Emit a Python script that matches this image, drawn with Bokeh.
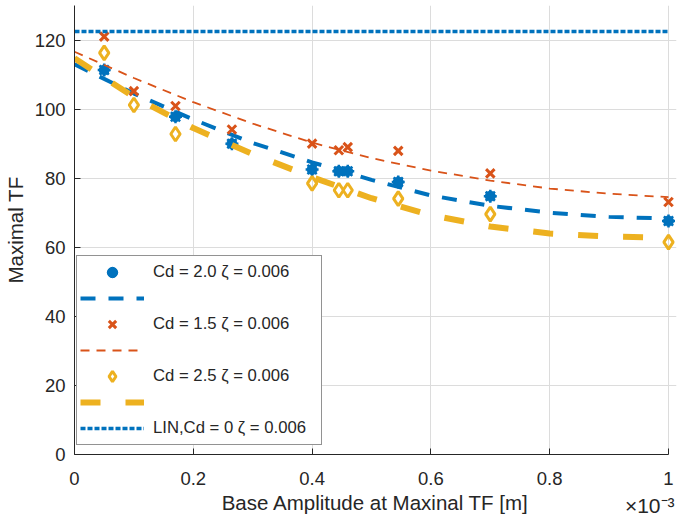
from bokeh.plotting import figure
from bokeh.models import Legend, LegendItem, FixedTicker, Range1d, Title
from bokeh.embed import file_html
from bokeh.resources import INLINE

# ---- data ----
blue_x = [0.05, 0.17, 0.265, 0.4, 0.445, 0.46, 0.545, 0.7, 1.0]
blue_y = [111.3, 97.8, 90.0, 82.5, 82.0, 82.0, 78.9, 74.8, 67.6]
orange_x = [0.05, 0.1, 0.17, 0.265, 0.4, 0.445, 0.46, 0.545, 0.7, 1.0]
orange_y = [121.0, 105.2, 100.9, 94.1, 90.0, 88.1, 89.0, 87.9, 81.4, 73.1]
yellow_x = [0.05, 0.1, 0.17, 0.4, 0.445, 0.46, 0.545, 0.7, 1.0]
yellow_y = [116.3, 101.2, 92.8, 78.5, 76.5, 76.5, 74.1, 69.6, 61.5]

fit_x = [0.0, 0.1, 0.2, 0.3, 0.4, 0.5, 0.6, 0.7, 0.8, 0.9, 1.0]
blue_fit = [113.0, 104.5, 97.0, 90.2, 84.6, 79.5, 75.0, 72.0, 70.0, 68.8, 68.3]
orange_fit = [116.6, 109.0, 102.0, 95.8, 90.3, 85.8, 82.2, 79.3, 77.0, 75.5, 74.5]
yellow_fit = [114.7, 103.5, 94.5, 87.0, 80.3, 74.2, 69.3, 66.0, 64.0, 63.1, 62.8]

lin_x = [0.0, 1.0]
lin_y = [122.5, 122.5]

x_ticks = [0.0, 0.2, 0.4, 0.6, 0.8, 1.0]
x_tick_labels = ["0", "0.2", "0.4", "0.6", "0.8", "1"]
y_ticks = [0, 20, 40, 60, 80, 100, 120]
y_max = 130

legend_labels = ["Cd = 2.0 \u03b6 = 0.006", "Cd = 1.5 \u03b6 = 0.006",
                 "Cd = 2.5 \u03b6 = 0.006", "LIN,Cd = 0 \u03b6 = 0.006"]
x_label = "Base Amplitude at Maxinal TF [m]"
y_label = "Maximal TF"
x_multiplier = "\u00d710\u207b\u00b3"

BLUE = "#0072BD"
ORANGE = "#D95319"
YELLOW = "#EDB120"
TXT = "#262626"
FONT = "Liberation Sans"

# frame geometry: x = 0..1 spans 594 px; a little room on the right so the
# markers at x = 1 are not cut by the frame
unit_px = 594
frame_w = 602
x_end = frame_w / unit_px

p = figure(frame_width=frame_w, frame_height=449, output_backend="svg",
           toolbar_location=None,
           x_range=Range1d(0, x_end), y_range=Range1d(0, y_max),
           min_border_left=74, min_border_right=3, min_border_top=5,
           min_border_bottom=40)
p.outline_line_color = None
p.background_fill_color = "white"

for ax in (p.xaxis[0], p.yaxis[0]):
    ax.axis_line_color = TXT
    ax.major_tick_line_color = TXT
    ax.major_tick_in = 6
    ax.major_tick_out = 0
    ax.minor_tick_line_color = None
    ax.major_label_text_font = FONT
    ax.major_label_text_font_size = "18.5px"
    ax.major_label_text_color = TXT
    ax.axis_label_text_font = FONT
    ax.axis_label_text_font_size = "20.5px"
    ax.axis_label_text_font_style = "normal"
    ax.axis_label_text_color = TXT

p.xaxis.ticker = FixedTicker(ticks=x_ticks)
p.xaxis.major_label_overrides = {t: s for t, s in zip(x_ticks, x_tick_labels)}
p.xaxis.bounds = (0, 1)
p.yaxis.ticker = FixedTicker(ticks=y_ticks)
p.xaxis.axis_label = x_label
p.yaxis.axis_label = y_label
p.xaxis.major_label_standoff = 17
p.xaxis.axis_label_standoff = 3
p.yaxis.major_label_standoff = 9
p.yaxis.axis_label_standoff = 5

p.xgrid.ticker = FixedTicker(ticks=x_ticks)
p.ygrid.ticker = FixedTicker(ticks=y_ticks)
p.grid.grid_line_color = "#DCDCDC"
p.grid.grid_line_width = 1

# series
b_c = p.scatter(blue_x, blue_y, marker="circle", size=10, fill_color=BLUE,
                line_color=BLUE, line_width=1)
b_a = p.scatter(blue_x, blue_y, marker="asterisk", size=13, line_color=BLUE,
                line_width=2.5)
b_l = p.line(fit_x, blue_fit, line_color=BLUE, line_width=4, line_dash="15 13")
o_m = p.scatter(orange_x, orange_y, marker="x", size=12, line_color=ORANGE,
                line_width=3)
o_l = p.line(fit_x, orange_fit, line_color=ORANGE, line_width=1.8, line_dash="9 7")
y_m = p.scatter(yellow_x, yellow_y, marker="diamond", size=14, fill_alpha=0,
                line_color=YELLOW, line_width=3)
y_l = p.line(fit_x, yellow_fit, line_color=YELLOW, line_width=6, line_dash="20 25")
l_l = p.line(lin_x, lin_y, line_color=BLUE, line_width=3.5, line_dash="5 2")

items = [
    LegendItem(label=legend_labels[0], renderers=[b_c, b_a]),
    LegendItem(label=" ", renderers=[b_l]),
    LegendItem(label=legend_labels[1], renderers=[o_m]),
    LegendItem(label=" ", renderers=[o_l]),
    LegendItem(label=legend_labels[2], renderers=[y_m]),
    LegendItem(label=" ", renderers=[y_l]),
    LegendItem(label=legend_labels[3], renderers=[l_l]),
]
legend = Legend(items=items, location=(2, 9), orientation="vertical",
                glyph_width=64, glyph_height=26, label_height=26,
                label_width=165, spacing=0, padding=3, margin=0,
                label_standoff=9, label_text_font=FONT,
                label_text_font_size="16.7px", label_text_color=TXT,
                border_line_color=TXT, border_line_width=1,
                background_fill_color="white", background_fill_alpha=1)
p.add_layout(legend, "center")

mult = Title(text=x_multiplier, align="right", vertical_align="top",
             standoff=-46, offset=2, text_font=FONT, text_font_size="21px",
             text_font_style="normal", text_color=TXT)
p.add_layout(mult, "below")

open("out.html", "w").write(file_html(p, INLINE))
